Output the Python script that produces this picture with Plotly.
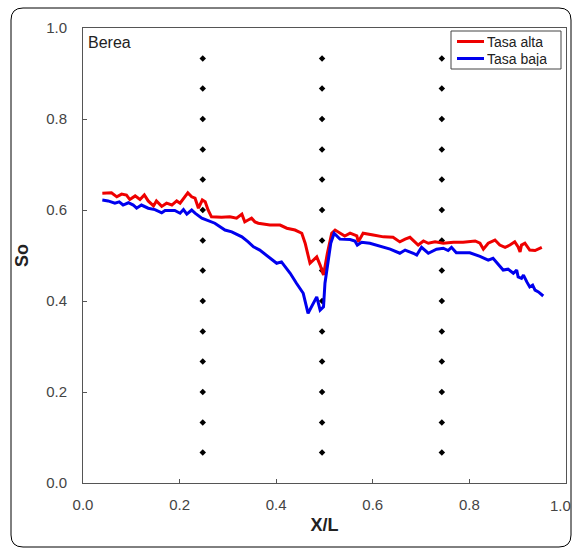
import plotly.graph_objects as go

# Saturation profiles along the core (X/L) for the two injection rates
alta_x = [0.040, 0.059, 0.070, 0.080, 0.090, 0.097, 0.108, 0.118, 0.127, 0.135,
          0.146, 0.152, 0.163, 0.173, 0.184, 0.194, 0.201, 0.208, 0.217, 0.225,
          0.232, 0.239, 0.247, 0.253, 0.259, 0.266, 0.287, 0.304, 0.318, 0.329,
          0.335, 0.342, 0.349, 0.356, 0.363, 0.387, 0.408, 0.422, 0.439, 0.453,
          0.460, 0.470, 0.477, 0.484, 0.491, 0.498, 0.506, 0.515, 0.522, 0.532,
          0.542, 0.553, 0.567, 0.570, 0.580, 0.601, 0.622, 0.642, 0.656, 0.667,
          0.677, 0.687, 0.694, 0.705, 0.715, 0.729, 0.746, 0.767, 0.787, 0.812,
          0.822, 0.829, 0.839, 0.853, 0.863, 0.874, 0.884, 0.894, 0.901, 0.905,
          0.908, 0.915, 0.925, 0.936, 0.946, 0.950]
alta_so = [0.637, 0.638, 0.629, 0.635, 0.633, 0.623, 0.631, 0.623, 0.633, 0.620,
           0.609, 0.620, 0.608, 0.615, 0.611, 0.620, 0.615, 0.626, 0.638, 0.629,
           0.626, 0.604, 0.622, 0.618, 0.600, 0.585, 0.584, 0.585, 0.582, 0.591,
           0.574, 0.578, 0.582, 0.574, 0.571, 0.567, 0.567, 0.560, 0.556, 0.549,
           0.527, 0.483, 0.490, 0.497, 0.479, 0.457, 0.505, 0.549, 0.556, 0.549,
           0.543, 0.549, 0.543, 0.530, 0.549, 0.545, 0.541, 0.540, 0.530, 0.536,
           0.540, 0.530, 0.523, 0.532, 0.527, 0.530, 0.527, 0.529, 0.529, 0.532,
           0.527, 0.514, 0.527, 0.534, 0.523, 0.518, 0.523, 0.530, 0.519, 0.508,
           0.523, 0.527, 0.512, 0.511, 0.516, 0.518]

baja_x = [0.040, 0.052, 0.066, 0.075, 0.083, 0.094, 0.104, 0.111, 0.121, 0.135,
          0.149, 0.163, 0.170, 0.190, 0.201, 0.208, 0.215, 0.225, 0.232, 0.246,
          0.273, 0.294, 0.308, 0.329, 0.342, 0.353, 0.366, 0.387, 0.401, 0.411,
          0.429, 0.442, 0.456, 0.466, 0.473, 0.484, 0.491, 0.498, 0.501, 0.506,
          0.513, 0.520, 0.532, 0.553, 0.563, 0.568, 0.577, 0.594, 0.615, 0.636,
          0.656, 0.667, 0.684, 0.691, 0.701, 0.715, 0.732, 0.746, 0.756, 0.763,
          0.773, 0.801, 0.822, 0.839, 0.849, 0.860, 0.870, 0.880, 0.891, 0.898,
          0.901, 0.908, 0.912, 0.919, 0.925, 0.931, 0.936, 0.943, 0.948, 0.953]
baja_so = [0.622, 0.620, 0.615, 0.618, 0.611, 0.616, 0.611, 0.604, 0.611, 0.604,
           0.601, 0.594, 0.599, 0.599, 0.593, 0.601, 0.591, 0.600, 0.593, 0.582,
           0.571, 0.556, 0.552, 0.541, 0.530, 0.519, 0.512, 0.494, 0.483, 0.486,
           0.461, 0.439, 0.417, 0.373, 0.387, 0.409, 0.380, 0.387, 0.439, 0.475,
           0.527, 0.549, 0.536, 0.535, 0.532, 0.523, 0.529, 0.527, 0.521, 0.514,
           0.505, 0.512, 0.505, 0.501, 0.518, 0.505, 0.514, 0.516, 0.511, 0.518,
           0.506, 0.506, 0.498, 0.490, 0.494, 0.479, 0.468, 0.470, 0.461, 0.468,
           0.453, 0.450, 0.457, 0.442, 0.431, 0.435, 0.424, 0.420, 0.415, 0.411]

# Sampling grid (pressure tap columns and measurement heights)
grid_cols = [0.248, 0.495, 0.743]
grid_rows = [0.067, 0.133, 0.200, 0.267, 0.333, 0.400, 0.467,
             0.533, 0.600, 0.667, 0.733, 0.800, 0.867, 0.933]

x_ticks = [0.0, 0.2, 0.4, 0.6, 0.8, 1.0]
x_tick_text = ["0.0", "0.2", "0.4", "0.6", "0.8", ""]
x_end_label = "1.0"
y_ticks = [0.0, 0.2, 0.4, 0.6, 0.8, 1.0]

series = [("Tasa alta", "#ee0000"), ("Tasa baja", "#0000ee")]

FONT = "Liberation Sans, Arial, sans-serif"

grid_x = [c for c in grid_cols for _ in grid_rows]
grid_y = [r for _ in grid_cols for r in grid_rows]

fig = go.Figure()
fig.add_trace(go.Scatter(
    x=grid_x, y=grid_y, mode="markers", showlegend=False, hoverinfo="skip",
    marker=dict(symbol="diamond", size=5, color="black"),
))
for (name, color), xs, ys in zip(series, [alta_x, baja_x], [alta_so, baja_so]):
    fig.add_trace(go.Scatter(
        x=xs, y=ys, mode="lines", name=name, showlegend=False,
        line=dict(color=color, width=3),
    ))

# Plot area spans 83..566 px horizontally and 28..483 px vertically
L, R, T, B = 83, 566, 28, 483
W, H = R - L, B - T


def px(xp):
    return (xp - L) / W


def py(yp):
    return (B - yp) / H


# Rounded outer frame around the whole chart
x0, x1, y0, y1, r = 11, 571, 8, 547, 12
frame = (
    f"M {px(x0 + r)},{py(y0)} L {px(x1 - r)},{py(y0)} "
    f"Q {px(x1)},{py(y0)} {px(x1)},{py(y0 + r)} "
    f"L {px(x1)},{py(y1 - r)} Q {px(x1)},{py(y1)} {px(x1 - r)},{py(y1)} "
    f"L {px(x0 + r)},{py(y1)} Q {px(x0)},{py(y1)} {px(x0)},{py(y1 - r)} "
    f"L {px(x0)},{py(y0 + r)} Q {px(x0)},{py(y0)} {px(x0 + r)},{py(y0)} Z"
)
fig.add_shape(type="path", path=frame, xref="paper", yref="paper",
              line=dict(color="black", width=1), layer="below")

fig.add_annotation(text="Berea", xref="paper", yref="paper",
                   x=px(86), y=py(42), xanchor="left", yanchor="middle",
                   showarrow=False, font=dict(family=FONT, size=16, color="#222"))

# The last x tick label sits at the page edge, so pull it inside the page
fig.add_annotation(text=x_end_label, xref="x", yref="paper",
                   x=x_ticks[-1], y=0, xanchor="right", yanchor="top",
                   xshift=7, yshift=-12, showarrow=False,
                   font=dict(family=FONT, size=15, color="#444"))

# Compact legend box in the upper-right corner
fig.add_shape(type="rect", xref="paper", yref="paper",
              x0=px(451), x1=px(561), y0=py(69), y1=py(31),
              line=dict(color="#444", width=1), fillcolor="white", layer="above")
for i, (name, color) in enumerate(series):
    yc = 41.5 + 17 * i
    fig.add_shape(type="line", xref="paper", yref="paper",
                  x0=px(457), x1=px(484), y0=py(yc), y1=py(yc),
                  line=dict(color=color, width=3), layer="above")
    fig.add_annotation(text=name, xref="paper", yref="paper",
                       x=px(485), y=py(yc), xanchor="left", yanchor="middle",
                       showarrow=False, height=15,
                       font=dict(family=FONT, size=14, color="#222"))

axis_common = dict(
    showgrid=False, zeroline=False, showline=True, linecolor="#555",
    linewidth=1, mirror=True, ticks="inside", ticklen=4, tickcolor="#555",
    tickfont=dict(family=FONT, size=15, color="#444"),
    automargin=False,
)

fig.update_layout(
    width=574, height=548,
    margin=dict(l=L, r=574 - R, t=T, b=548 - B, autoexpand=False),
    paper_bgcolor="white", plot_bgcolor="white",
    xaxis=dict(axis_common, tickvals=x_ticks, ticktext=x_tick_text,
               range=[0, 1.0001], ticklabelstandoff=8,
               title=dict(text="<b>X/L</b>", standoff=6,
                          font=dict(family=FONT, size=18, color="#222"))),
    yaxis=dict(axis_common, tickvals=y_ticks, tickformat=".1f",
               range=[0, 1.0001], ticklabelstandoff=12,
               title=dict(text="<b>So</b>", standoff=12,
                          font=dict(family=FONT, size=18, color="#222"))),
    showlegend=False,
)

fig.write_html("out.html")
